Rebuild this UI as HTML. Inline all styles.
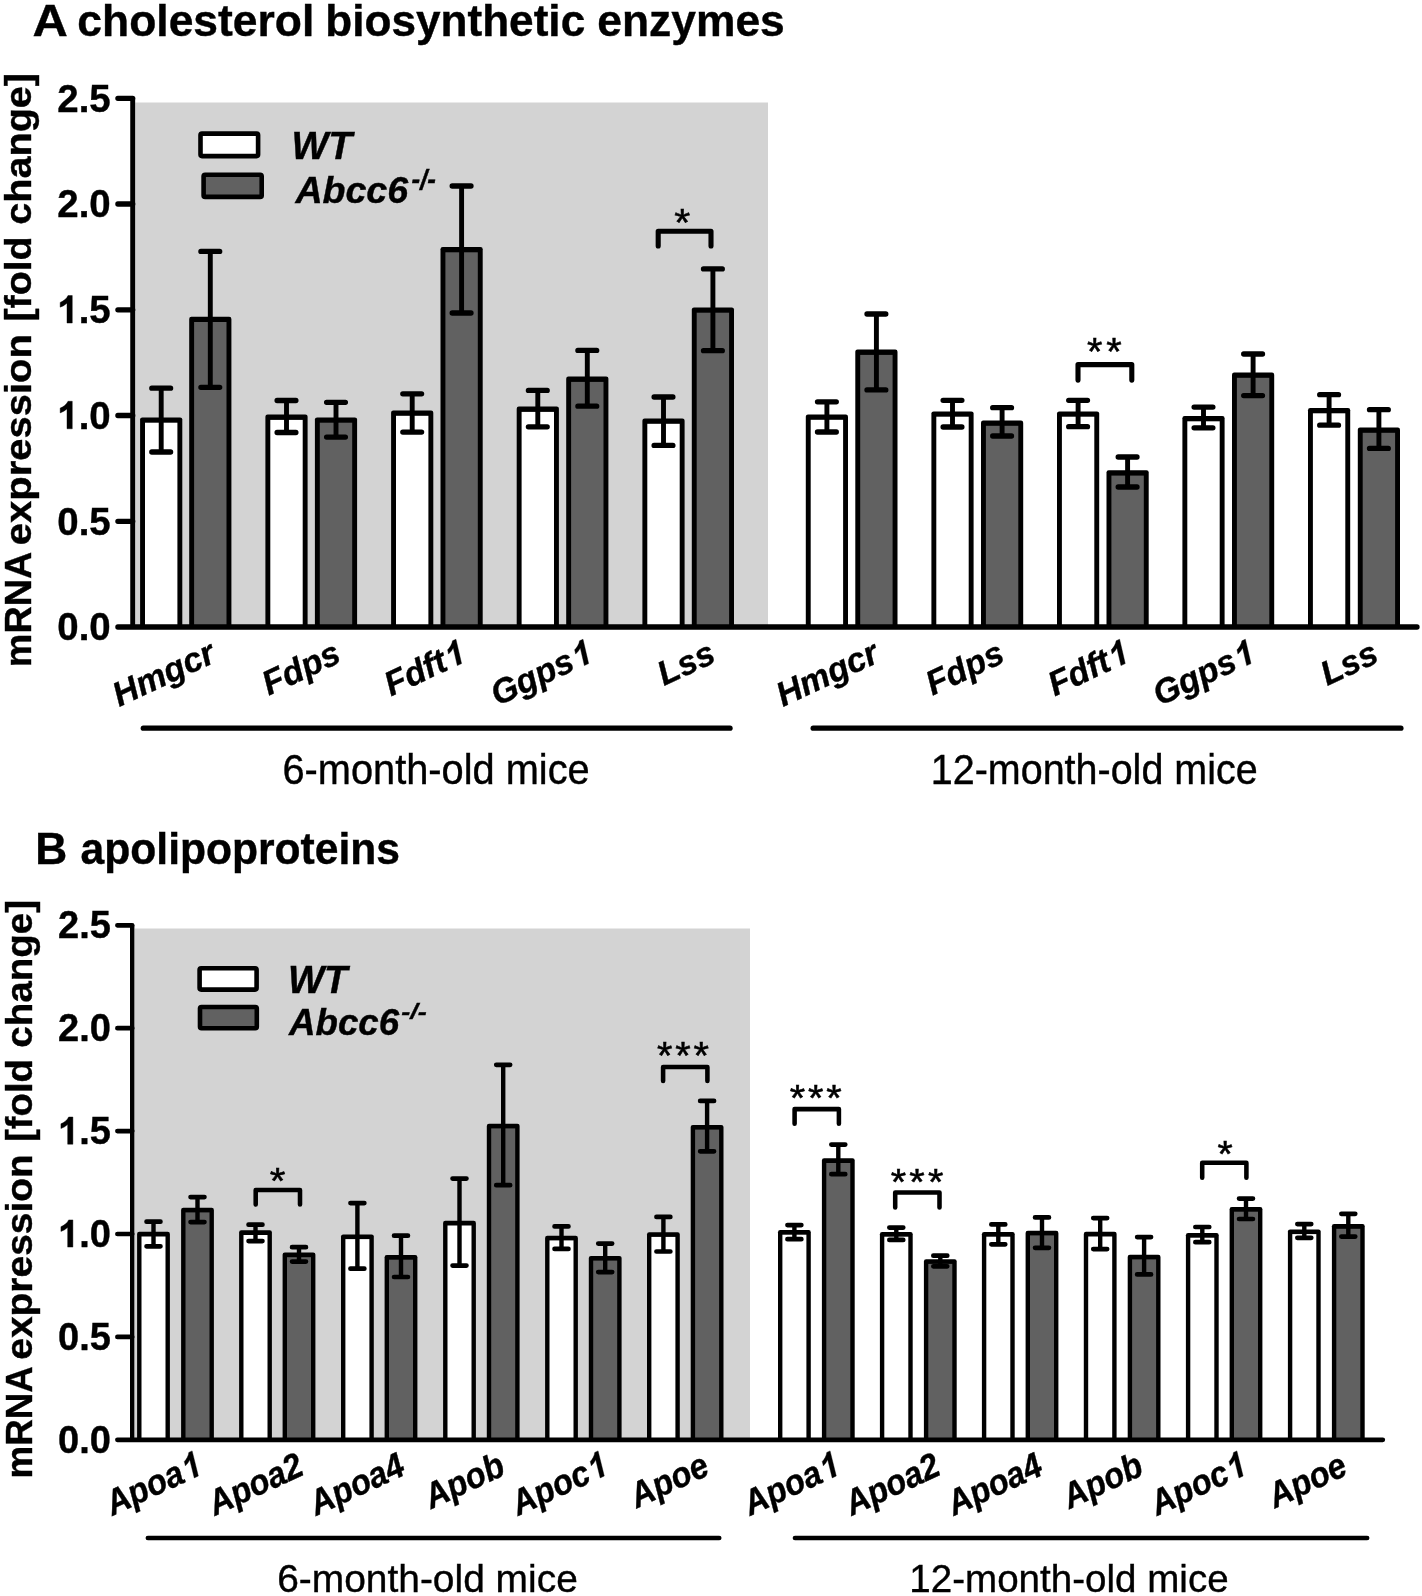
<!DOCTYPE html><html><head><meta charset="utf-8"><style>
html,body{margin:0;padding:0;background:#fff;}
svg{display:block;will-change:transform;}
text{font-family:"Liberation Sans",sans-serif;fill:#000;stroke:#000;stroke-width:0.4px;vector-effect:non-scaling-stroke;}
.one{stroke:#000;stroke-width:0.4px;vector-effect:non-scaling-stroke;}
.title,.tick,.ytitle{font-weight:bold;}
.leg,.cat{font-weight:bold;font-style:italic;}
.ast{stroke-width:0.55px;}
</style></head><body>
<svg width="1422" height="1596" viewBox="0 0 1422 1596">
<rect x="135.2" y="102.5" width="632.8" height="524.5" fill="#d3d3d3"/>
<text transform="translate(32.43 36.10) scale(0.48939 0.44300)" class="title" font-size="100">A</text>
<text transform="translate(77.32 36.10) scale(0.44425 0.44300)" class="title" font-size="100">cholesterol</text>
<text transform="translate(325.21 36.10) scale(0.44145 0.44300)" class="title" font-size="100">biosynthetic</text>
<text transform="translate(597.33 36.10) scale(0.44372 0.44300)" class="title" font-size="100">enzymes</text>
<rect x="140.10" y="417.40" width="42.20" height="209.60" rx="2.2"/>
<rect x="145.00" y="422.70" width="32.40" height="204.30" fill="#fff"/>
<rect x="189.20" y="316.70" width="42.20" height="310.30" rx="2.2"/>
<rect x="194.10" y="322.00" width="32.40" height="305.00" fill="#616161"/>
<rect x="265.40" y="414.60" width="42.20" height="212.40" rx="2.2"/>
<rect x="270.30" y="419.90" width="32.40" height="207.10" fill="#fff"/>
<rect x="314.90" y="417.40" width="42.20" height="209.60" rx="2.2"/>
<rect x="319.80" y="422.70" width="32.40" height="204.30" fill="#616161"/>
<rect x="391.10" y="410.50" width="42.20" height="216.50" rx="2.2"/>
<rect x="396.00" y="415.80" width="32.40" height="211.20" fill="#fff"/>
<rect x="440.50" y="247.00" width="42.20" height="380.00" rx="2.2"/>
<rect x="445.40" y="252.30" width="32.40" height="374.70" fill="#616161"/>
<rect x="516.70" y="406.60" width="42.20" height="220.40" rx="2.2"/>
<rect x="521.60" y="411.90" width="32.40" height="215.10" fill="#fff"/>
<rect x="566.20" y="376.60" width="42.20" height="250.40" rx="2.2"/>
<rect x="571.10" y="381.90" width="32.40" height="245.10" fill="#616161"/>
<rect x="642.40" y="418.50" width="42.20" height="208.50" rx="2.2"/>
<rect x="647.30" y="423.80" width="32.40" height="203.20" fill="#fff"/>
<rect x="691.80" y="307.40" width="42.20" height="319.60" rx="2.2"/>
<rect x="696.70" y="312.70" width="32.40" height="314.30" fill="#616161"/>
<rect x="805.80" y="414.50" width="42.20" height="212.50" rx="2.2"/>
<rect x="810.70" y="419.80" width="32.40" height="207.20" fill="#fff"/>
<rect x="855.30" y="349.60" width="42.20" height="277.40" rx="2.2"/>
<rect x="860.20" y="354.90" width="32.40" height="272.10" fill="#616161"/>
<rect x="931.40" y="411.40" width="42.20" height="215.60" rx="2.2"/>
<rect x="936.30" y="416.70" width="32.40" height="210.30" fill="#fff"/>
<rect x="981.00" y="420.50" width="42.20" height="206.50" rx="2.2"/>
<rect x="985.90" y="425.80" width="32.40" height="201.20" fill="#616161"/>
<rect x="1057.00" y="411.40" width="42.20" height="215.60" rx="2.2"/>
<rect x="1061.90" y="416.70" width="32.40" height="210.30" fill="#fff"/>
<rect x="1106.50" y="470.30" width="42.20" height="156.70" rx="2.2"/>
<rect x="1111.40" y="475.60" width="32.40" height="151.40" fill="#616161"/>
<rect x="1182.40" y="416.00" width="42.20" height="211.00" rx="2.2"/>
<rect x="1187.30" y="421.30" width="32.40" height="205.70" fill="#fff"/>
<rect x="1232.00" y="372.50" width="42.20" height="254.50" rx="2.2"/>
<rect x="1236.90" y="377.80" width="32.40" height="249.20" fill="#616161"/>
<rect x="1308.00" y="408.00" width="42.20" height="219.00" rx="2.2"/>
<rect x="1312.90" y="413.30" width="32.40" height="213.70" fill="#fff"/>
<rect x="1357.80" y="427.50" width="42.20" height="199.50" rx="2.2"/>
<rect x="1362.70" y="432.80" width="32.40" height="194.20" fill="#616161"/>
<rect x="158.75" y="388.20" width="4.90" height="63.80"/>
<path d="M151.80 388.20H170.60M151.80 452.00H170.60" stroke="#000" stroke-width="5.3" stroke-linecap="round" fill="none"/>
<rect x="207.85" y="251.40" width="4.90" height="135.90"/>
<path d="M200.90 251.40H219.70M200.90 387.30H219.70" stroke="#000" stroke-width="5.3" stroke-linecap="round" fill="none"/>
<rect x="284.05" y="400.50" width="4.90" height="32.00"/>
<path d="M277.10 400.50H295.90M277.10 432.50H295.90" stroke="#000" stroke-width="5.3" stroke-linecap="round" fill="none"/>
<rect x="333.55" y="402.30" width="4.90" height="34.80"/>
<path d="M326.60 402.30H345.40M326.60 437.10H345.40" stroke="#000" stroke-width="5.3" stroke-linecap="round" fill="none"/>
<rect x="409.75" y="393.80" width="4.90" height="38.30"/>
<path d="M402.80 393.80H421.60M402.80 432.10H421.60" stroke="#000" stroke-width="5.3" stroke-linecap="round" fill="none"/>
<rect x="459.15" y="186.00" width="4.90" height="127.00"/>
<path d="M452.20 186.00H471.00M452.20 313.00H471.00" stroke="#000" stroke-width="5.3" stroke-linecap="round" fill="none"/>
<rect x="535.35" y="390.40" width="4.90" height="36.40"/>
<path d="M528.40 390.40H547.20M528.40 426.80H547.20" stroke="#000" stroke-width="5.3" stroke-linecap="round" fill="none"/>
<rect x="584.85" y="350.40" width="4.90" height="55.80"/>
<path d="M577.90 350.40H596.70M577.90 406.20H596.70" stroke="#000" stroke-width="5.3" stroke-linecap="round" fill="none"/>
<rect x="661.05" y="397.00" width="4.90" height="48.40"/>
<path d="M654.10 397.00H672.90M654.10 445.40H672.90" stroke="#000" stroke-width="5.3" stroke-linecap="round" fill="none"/>
<rect x="710.45" y="268.90" width="4.90" height="81.80"/>
<path d="M703.50 268.90H722.30M703.50 350.70H722.30" stroke="#000" stroke-width="5.3" stroke-linecap="round" fill="none"/>
<rect x="824.45" y="401.80" width="4.90" height="30.20"/>
<path d="M817.50 401.80H836.30M817.50 432.00H836.30" stroke="#000" stroke-width="5.3" stroke-linecap="round" fill="none"/>
<rect x="873.95" y="314.00" width="4.90" height="75.90"/>
<path d="M867.00 314.00H885.80M867.00 389.90H885.80" stroke="#000" stroke-width="5.3" stroke-linecap="round" fill="none"/>
<rect x="950.05" y="400.30" width="4.90" height="26.70"/>
<path d="M943.10 400.30H961.90M943.10 427.00H961.90" stroke="#000" stroke-width="5.3" stroke-linecap="round" fill="none"/>
<rect x="999.65" y="407.70" width="4.90" height="28.30"/>
<path d="M992.70 407.70H1011.50M992.70 436.00H1011.50" stroke="#000" stroke-width="5.3" stroke-linecap="round" fill="none"/>
<rect x="1075.65" y="400.30" width="4.90" height="26.40"/>
<path d="M1068.70 400.30H1087.50M1068.70 426.70H1087.50" stroke="#000" stroke-width="5.3" stroke-linecap="round" fill="none"/>
<rect x="1125.15" y="457.00" width="4.90" height="30.00"/>
<path d="M1118.20 457.00H1137.00M1118.20 487.00H1137.00" stroke="#000" stroke-width="5.3" stroke-linecap="round" fill="none"/>
<rect x="1201.05" y="407.10" width="4.90" height="20.70"/>
<path d="M1194.10 407.10H1212.90M1194.10 427.80H1212.90" stroke="#000" stroke-width="5.3" stroke-linecap="round" fill="none"/>
<rect x="1250.65" y="354.00" width="4.90" height="41.60"/>
<path d="M1243.70 354.00H1262.50M1243.70 395.60H1262.50" stroke="#000" stroke-width="5.3" stroke-linecap="round" fill="none"/>
<rect x="1326.65" y="394.70" width="4.90" height="30.50"/>
<path d="M1319.70 394.70H1338.50M1319.70 425.20H1338.50" stroke="#000" stroke-width="5.3" stroke-linecap="round" fill="none"/>
<rect x="1376.45" y="409.70" width="4.90" height="38.70"/>
<path d="M1369.50 409.70H1388.30M1369.50 448.40H1388.30" stroke="#000" stroke-width="5.3" stroke-linecap="round" fill="none"/>
<path d="M132.7 98.3V627.0" stroke="#000" stroke-width="4.9" fill="none"/>
<path d="M130.25 627.0H1417.0M117.9 627.0H132.7M117.9 521.3H132.7M117.9 415.5H132.7M117.9 309.8H132.7M117.9 204.0H132.7M117.9 98.3H132.7" stroke="#000" stroke-width="5.3" stroke-linecap="round" fill="none"/>
<text transform="translate(110.75 640.27) scale(0.38451)" class="tick" font-size="100" text-anchor="end">0.0</text>
<text transform="translate(110.75 534.53) scale(0.38451)" class="tick" font-size="100" text-anchor="end">0.5</text>
<g transform="translate(110.75 428.79) scale(0.38451)"><text class="tick" font-size="100" text-anchor="end">.0</text><path transform="translate(-139 0) scale(0.048828 -0.048828)" class="one" d="M797 0H516V1059Q363 916 153 846V1101Q264 1137 392 1239Q520 1341 569 1466H797Z"/></g>
<g transform="translate(110.75 323.05) scale(0.38451)"><text class="tick" font-size="100" text-anchor="end">.5</text><path transform="translate(-139 0) scale(0.048828 -0.048828)" class="one" d="M797 0H516V1059Q363 916 153 846V1101Q264 1137 392 1239Q520 1341 569 1466H797Z"/></g>
<text transform="translate(110.75 217.31) scale(0.38451)" class="tick" font-size="100" text-anchor="end">2.0</text>
<text transform="translate(110.75 111.57) scale(0.38451)" class="tick" font-size="100" text-anchor="end">2.5</text>
<text transform="translate(30.50 667.14) rotate(-90) scale(0.37763 0.37800)" class="ytitle" font-size="100">mRNA</text>
<text transform="translate(30.50 545.20) rotate(-90) scale(0.40000 0.37800)" class="ytitle" font-size="100">expression</text>
<text transform="translate(30.50 321.56) rotate(-90) scale(0.39363 0.37800)" class="ytitle" font-size="100">[fold</text>
<text transform="translate(30.50 224.68) rotate(-90) scale(0.39599 0.37800)" class="ytitle" font-size="100">change]</text>
<rect x="200.5" y="133.6" width="57.6" height="22.5" fill="#fff" stroke="#000" stroke-width="4.6" rx="1.5"/>
<rect x="203.6" y="174.8" width="58.1" height="22.1" fill="#616161" stroke="#000" stroke-width="4.6" rx="1.5"/>
<text transform="translate(291.47 158.80) scale(0.38968 0.38261)" class="leg" font-size="100">WT</text>
<text transform="translate(295.48 202.83) scale(0.37550 0.37027)" class="leg" font-size="100">Abcc6</text>
<text transform="translate(411.42 189.23) scale(0.25909 0.27162)" class="leg" font-size="100">-/-</text>
<g transform="translate(217.50 661.20) rotate(-25) scale(1.0 1)" class="cat" font-size="34.2"><text text-anchor="end">Hmgcr</text></g>
<g transform="translate(342.80 661.20) rotate(-25) scale(1.0 1)" class="cat" font-size="34.2"><text text-anchor="end">Fdps</text></g>
<g transform="translate(466.75 661.20) rotate(-25) scale(1.0 1)" class="cat" font-size="34.2"><text x="-19.02" text-anchor="end">Fdft</text><path transform="translate(-19.02 0) skewX(-12) scale(0.01670 -0.01670)" class="one" d="M797 0H516V1059Q363 916 153 846V1101Q264 1137 392 1239Q520 1341 569 1466H797Z"/></g>
<g transform="translate(593.80 661.20) rotate(-25) scale(1.0 1)" class="cat" font-size="34.2"><text x="-19.02" text-anchor="end">Ggps</text><path transform="translate(-19.02 0) skewX(-12) scale(0.01670 -0.01670)" class="one" d="M797 0H516V1059Q363 916 153 846V1101Q264 1137 392 1239Q520 1341 569 1466H797Z"/></g>
<g transform="translate(717.45 661.20) rotate(-25) scale(1.0 1)" class="cat" font-size="34.2"><text text-anchor="end">Lss</text></g>
<g transform="translate(881.10 661.20) rotate(-25) scale(1.0 1)" class="cat" font-size="34.2"><text text-anchor="end">Hmgcr</text></g>
<g transform="translate(1006.45 661.20) rotate(-25) scale(1.0 1)" class="cat" font-size="34.2"><text text-anchor="end">Fdps</text></g>
<g transform="translate(1130.40 661.20) rotate(-25) scale(1.0 1)" class="cat" font-size="34.2"><text x="-19.02" text-anchor="end">Fdft</text><path transform="translate(-19.02 0) skewX(-12) scale(0.01670 -0.01670)" class="one" d="M797 0H516V1059Q363 916 153 846V1101Q264 1137 392 1239Q520 1341 569 1466H797Z"/></g>
<g transform="translate(1256.15 661.20) rotate(-25) scale(1.0 1)" class="cat" font-size="34.2"><text x="-19.02" text-anchor="end">Ggps</text><path transform="translate(-19.02 0) skewX(-12) scale(0.01670 -0.01670)" class="one" d="M797 0H516V1059Q363 916 153 846V1101Q264 1137 392 1239Q520 1341 569 1466H797Z"/></g>
<g transform="translate(1380.55 661.20) rotate(-25) scale(1.0 1)" class="cat" font-size="34.2"><text text-anchor="end">Lss</text></g>
<path d="M143.3 728.2H730.0" stroke="#000" stroke-width="5.3" stroke-linecap="round"/>
<path d="M813.2 728.2H1400.9" stroke="#000" stroke-width="5.3" stroke-linecap="round"/>
<text transform="translate(282.41 783.89) scale(0.39790 0.42519)" class="grp" font-size="100">6-month-old mice</text>
<text transform="translate(930.74 783.59) scale(0.39498 0.42099)" class="grp" font-size="100">12-month-old mice</text>
<path d="M658.2 246.0V231.3H711.0V246.0" stroke="#000" stroke-width="5.1" stroke-linecap="round" stroke-linejoin="round" fill="none"/>
<text transform="translate(674.28 236.21) scale(0.41143 0.39143)" class="ast" font-size="100">*</text>
<path d="M1078.0 380.1V364.6H1131.8V380.1" stroke="#000" stroke-width="5.1" stroke-linecap="round" stroke-linejoin="round" fill="none"/>
<text transform="translate(1087.01 364.91) scale(0.39714 0.38857)" class="ast" font-size="100">*</text>
<text transform="translate(1106.31 364.91) scale(0.39714 0.38857)" class="ast" font-size="100">*</text>
<rect x="134.7" y="928.5" width="615.3" height="511.3" fill="#d3d3d3"/>
<text transform="translate(35.30 864.20) scale(0.44262 0.44300)" class="title" font-size="100">B</text>
<text transform="translate(80.62 864.20) scale(0.42584 0.44300)" class="title" font-size="100">apolipoproteins</text>
<rect x="137.10" y="1231.80" width="32.80" height="208.00" rx="2.2"/>
<rect x="141.50" y="1236.50" width="24.00" height="203.30" fill="#fff"/>
<rect x="181.10" y="1207.70" width="32.80" height="232.10" rx="2.2"/>
<rect x="185.50" y="1212.40" width="24.00" height="227.40" fill="#616161"/>
<rect x="239.10" y="1230.30" width="32.80" height="209.50" rx="2.2"/>
<rect x="243.50" y="1235.00" width="24.00" height="204.80" fill="#fff"/>
<rect x="282.60" y="1252.50" width="32.80" height="187.30" rx="2.2"/>
<rect x="287.00" y="1257.20" width="24.00" height="182.60" fill="#616161"/>
<rect x="341.00" y="1234.40" width="32.80" height="205.40" rx="2.2"/>
<rect x="345.40" y="1239.10" width="24.00" height="200.70" fill="#fff"/>
<rect x="384.60" y="1255.00" width="32.80" height="184.80" rx="2.2"/>
<rect x="389.00" y="1259.70" width="24.00" height="180.10" fill="#616161"/>
<rect x="443.10" y="1220.80" width="32.80" height="219.00" rx="2.2"/>
<rect x="447.50" y="1225.50" width="24.00" height="214.30" fill="#fff"/>
<rect x="486.80" y="1123.70" width="32.80" height="316.10" rx="2.2"/>
<rect x="491.20" y="1128.40" width="24.00" height="311.40" fill="#616161"/>
<rect x="545.10" y="1235.70" width="32.80" height="204.10" rx="2.2"/>
<rect x="549.50" y="1240.40" width="24.00" height="199.40" fill="#fff"/>
<rect x="588.80" y="1255.90" width="32.80" height="183.90" rx="2.2"/>
<rect x="593.20" y="1260.60" width="24.00" height="179.20" fill="#616161"/>
<rect x="647.00" y="1232.20" width="32.80" height="207.60" rx="2.2"/>
<rect x="651.40" y="1236.90" width="24.00" height="202.90" fill="#fff"/>
<rect x="690.70" y="1124.90" width="32.80" height="314.90" rx="2.2"/>
<rect x="695.10" y="1129.60" width="24.00" height="310.20" fill="#616161"/>
<rect x="778.00" y="1230.00" width="32.80" height="209.80" rx="2.2"/>
<rect x="782.40" y="1234.70" width="24.00" height="205.10" fill="#fff"/>
<rect x="821.90" y="1158.30" width="32.80" height="281.50" rx="2.2"/>
<rect x="826.30" y="1163.00" width="24.00" height="276.80" fill="#616161"/>
<rect x="879.90" y="1232.00" width="32.80" height="207.80" rx="2.2"/>
<rect x="884.30" y="1236.70" width="24.00" height="203.10" fill="#fff"/>
<rect x="923.90" y="1259.20" width="32.80" height="180.60" rx="2.2"/>
<rect x="928.30" y="1263.90" width="24.00" height="175.90" fill="#616161"/>
<rect x="981.90" y="1232.00" width="32.80" height="207.80" rx="2.2"/>
<rect x="986.30" y="1236.70" width="24.00" height="203.10" fill="#fff"/>
<rect x="1025.60" y="1230.70" width="32.80" height="209.10" rx="2.2"/>
<rect x="1030.00" y="1235.40" width="24.00" height="204.40" fill="#616161"/>
<rect x="1083.80" y="1231.80" width="32.80" height="208.00" rx="2.2"/>
<rect x="1088.20" y="1236.50" width="24.00" height="203.30" fill="#fff"/>
<rect x="1127.70" y="1254.70" width="32.80" height="185.10" rx="2.2"/>
<rect x="1132.10" y="1259.40" width="24.00" height="180.40" fill="#616161"/>
<rect x="1185.90" y="1233.00" width="32.80" height="206.80" rx="2.2"/>
<rect x="1190.30" y="1237.70" width="24.00" height="202.10" fill="#fff"/>
<rect x="1229.60" y="1207.00" width="32.80" height="232.80" rx="2.2"/>
<rect x="1234.00" y="1211.70" width="24.00" height="228.10" fill="#616161"/>
<rect x="1287.90" y="1229.40" width="32.80" height="210.40" rx="2.2"/>
<rect x="1292.30" y="1234.10" width="24.00" height="205.70" fill="#fff"/>
<rect x="1331.90" y="1224.10" width="32.80" height="215.70" rx="2.2"/>
<rect x="1336.30" y="1228.80" width="24.00" height="211.00" fill="#616161"/>
<rect x="151.30" y="1221.70" width="4.40" height="24.60"/>
<path d="M146.55 1221.70H160.45M146.55 1246.30H160.45" stroke="#000" stroke-width="4.7" stroke-linecap="round" fill="none"/>
<rect x="195.30" y="1197.10" width="4.40" height="25.00"/>
<path d="M190.55 1197.10H204.45M190.55 1222.10H204.45" stroke="#000" stroke-width="4.7" stroke-linecap="round" fill="none"/>
<rect x="253.30" y="1224.70" width="4.40" height="16.40"/>
<path d="M248.55 1224.70H262.45M248.55 1241.10H262.45" stroke="#000" stroke-width="4.7" stroke-linecap="round" fill="none"/>
<rect x="296.80" y="1247.20" width="4.40" height="14.40"/>
<path d="M292.05 1247.20H305.95M292.05 1261.60H305.95" stroke="#000" stroke-width="4.7" stroke-linecap="round" fill="none"/>
<rect x="355.20" y="1203.10" width="4.40" height="65.60"/>
<path d="M350.45 1203.10H364.35M350.45 1268.70H364.35" stroke="#000" stroke-width="4.7" stroke-linecap="round" fill="none"/>
<rect x="398.80" y="1235.70" width="4.40" height="41.30"/>
<path d="M394.05 1235.70H407.95M394.05 1277.00H407.95" stroke="#000" stroke-width="4.7" stroke-linecap="round" fill="none"/>
<rect x="457.30" y="1178.60" width="4.40" height="87.00"/>
<path d="M452.55 1178.60H466.45M452.55 1265.60H466.45" stroke="#000" stroke-width="4.7" stroke-linecap="round" fill="none"/>
<rect x="501.00" y="1064.80" width="4.40" height="120.40"/>
<path d="M496.25 1064.80H510.15M496.25 1185.20H510.15" stroke="#000" stroke-width="4.7" stroke-linecap="round" fill="none"/>
<rect x="559.30" y="1226.40" width="4.40" height="22.50"/>
<path d="M554.55 1226.40H568.45M554.55 1248.90H568.45" stroke="#000" stroke-width="4.7" stroke-linecap="round" fill="none"/>
<rect x="603.00" y="1243.60" width="4.40" height="28.50"/>
<path d="M598.25 1243.60H612.15M598.25 1272.10H612.15" stroke="#000" stroke-width="4.7" stroke-linecap="round" fill="none"/>
<rect x="661.20" y="1216.90" width="4.40" height="34.60"/>
<path d="M656.45 1216.90H670.35M656.45 1251.50H670.35" stroke="#000" stroke-width="4.7" stroke-linecap="round" fill="none"/>
<rect x="704.90" y="1100.90" width="4.40" height="50.40"/>
<path d="M700.15 1100.90H714.05M700.15 1151.30H714.05" stroke="#000" stroke-width="4.7" stroke-linecap="round" fill="none"/>
<rect x="792.20" y="1225.10" width="4.40" height="14.10"/>
<path d="M787.45 1225.10H801.35M787.45 1239.20H801.35" stroke="#000" stroke-width="4.7" stroke-linecap="round" fill="none"/>
<rect x="836.10" y="1144.60" width="4.40" height="29.60"/>
<path d="M831.35 1144.60H845.25M831.35 1174.20H845.25" stroke="#000" stroke-width="4.7" stroke-linecap="round" fill="none"/>
<rect x="894.10" y="1227.60" width="4.40" height="12.30"/>
<path d="M889.35 1227.60H903.25M889.35 1239.90H903.25" stroke="#000" stroke-width="4.7" stroke-linecap="round" fill="none"/>
<rect x="938.10" y="1255.70" width="4.40" height="10.60"/>
<path d="M933.35 1255.70H947.25M933.35 1266.30H947.25" stroke="#000" stroke-width="4.7" stroke-linecap="round" fill="none"/>
<rect x="996.10" y="1224.40" width="4.40" height="19.90"/>
<path d="M991.35 1224.40H1005.25M991.35 1244.30H1005.25" stroke="#000" stroke-width="4.7" stroke-linecap="round" fill="none"/>
<rect x="1039.80" y="1217.40" width="4.40" height="30.40"/>
<path d="M1035.05 1217.40H1048.95M1035.05 1247.80H1048.95" stroke="#000" stroke-width="4.7" stroke-linecap="round" fill="none"/>
<rect x="1098.00" y="1218.10" width="4.40" height="31.00"/>
<path d="M1093.25 1218.10H1107.15M1093.25 1249.10H1107.15" stroke="#000" stroke-width="4.7" stroke-linecap="round" fill="none"/>
<rect x="1141.90" y="1237.10" width="4.40" height="37.30"/>
<path d="M1137.15 1237.10H1151.05M1137.15 1274.40H1151.05" stroke="#000" stroke-width="4.7" stroke-linecap="round" fill="none"/>
<rect x="1200.10" y="1227.00" width="4.40" height="15.20"/>
<path d="M1195.35 1227.00H1209.25M1195.35 1242.20H1209.25" stroke="#000" stroke-width="4.7" stroke-linecap="round" fill="none"/>
<rect x="1243.80" y="1198.60" width="4.40" height="20.40"/>
<path d="M1239.05 1198.60H1252.95M1239.05 1219.00H1252.95" stroke="#000" stroke-width="4.7" stroke-linecap="round" fill="none"/>
<rect x="1302.10" y="1224.10" width="4.40" height="13.70"/>
<path d="M1297.35 1224.10H1311.25M1297.35 1237.80H1311.25" stroke="#000" stroke-width="4.7" stroke-linecap="round" fill="none"/>
<rect x="1346.10" y="1213.80" width="4.40" height="22.80"/>
<path d="M1341.35 1213.80H1355.25M1341.35 1236.60H1355.25" stroke="#000" stroke-width="4.7" stroke-linecap="round" fill="none"/>
<path d="M132.2 925.3V1439.8" stroke="#000" stroke-width="4.4" fill="none"/>
<path d="M130.00 1439.8H1382.8M117.4 1439.8H132.2M117.4 1336.9H132.2M117.4 1234.0H132.2M117.4 1131.1H132.2M117.4 1028.2H132.2M117.4 925.3H132.2" stroke="#000" stroke-width="4.7" stroke-linecap="round" fill="none"/>
<text transform="translate(110.94 1452.92) scale(0.38028)" class="tick" font-size="100" text-anchor="end">0.0</text>
<text transform="translate(110.94 1350.02) scale(0.38028)" class="tick" font-size="100" text-anchor="end">0.5</text>
<g transform="translate(110.94 1247.12) scale(0.38028)"><text class="tick" font-size="100" text-anchor="end">.0</text><path transform="translate(-139 0) scale(0.048828 -0.048828)" class="one" d="M797 0H516V1059Q363 916 153 846V1101Q264 1137 392 1239Q520 1341 569 1466H797Z"/></g>
<g transform="translate(110.94 1144.22) scale(0.38028)"><text class="tick" font-size="100" text-anchor="end">.5</text><path transform="translate(-139 0) scale(0.048828 -0.048828)" class="one" d="M797 0H516V1059Q363 916 153 846V1101Q264 1137 392 1239Q520 1341 569 1466H797Z"/></g>
<text transform="translate(110.94 1041.32) scale(0.38028)" class="tick" font-size="100" text-anchor="end">2.0</text>
<text transform="translate(110.94 938.42) scale(0.38028)" class="tick" font-size="100" text-anchor="end">2.5</text>
<text transform="translate(32.40 1478.47) rotate(-90) scale(0.36770 0.37800)" class="ytitle" font-size="100">mRNA</text>
<text transform="translate(32.40 1359.74) rotate(-90) scale(0.38948 0.37800)" class="ytitle" font-size="100">expression</text>
<text transform="translate(32.40 1141.98) rotate(-90) scale(0.38328 0.37800)" class="ytitle" font-size="100">[fold</text>
<text transform="translate(32.40 1047.65) rotate(-90) scale(0.38557 0.37800)" class="ytitle" font-size="100">change]</text>
<rect x="199.6" y="968.3" width="57.0" height="21.3" fill="#fff" stroke="#000" stroke-width="4.6" rx="1.5"/>
<rect x="200.0" y="1007.0" width="56.8" height="21.2" fill="#616161" stroke="#000" stroke-width="4.6" rx="1.5"/>
<text transform="translate(287.92 992.50) scale(0.38323 0.39710)" class="leg" font-size="100">WT</text>
<text transform="translate(289.07 1034.54) scale(0.36656 0.36351)" class="leg" font-size="100">Abcc6</text>
<text transform="translate(401.29 1019.17) scale(0.27045 0.22838)" class="leg" font-size="100">-/-</text>
<g transform="translate(203.30 1473.70) rotate(-25) scale(0.925 1)" class="cat" font-size="35.5"><text x="-19.74" text-anchor="end">Apoa</text><path transform="translate(-19.74 0) skewX(-12) scale(0.01733 -0.01733)" class="one" d="M797 0H516V1059Q363 916 153 846V1101Q264 1137 392 1239Q520 1341 569 1466H797Z"/></g>
<g transform="translate(305.85 1473.70) rotate(-25) scale(0.925 1)" class="cat" font-size="35.5"><text text-anchor="end">Apoa2</text></g>
<g transform="translate(407.20 1473.70) rotate(-25) scale(0.925 1)" class="cat" font-size="35.5"><text text-anchor="end">Apoa4</text></g>
<g transform="translate(507.15 1473.70) rotate(-25) scale(0.925 1)" class="cat" font-size="35.5"><text text-anchor="end">Apob</text></g>
<g transform="translate(609.25 1473.70) rotate(-25) scale(0.925 1)" class="cat" font-size="35.5"><text x="-19.74" text-anchor="end">Apoc</text><path transform="translate(-19.74 0) skewX(-12) scale(0.01733 -0.01733)" class="one" d="M797 0H516V1059Q363 916 153 846V1101Q264 1137 392 1239Q520 1341 569 1466H797Z"/></g>
<g transform="translate(711.25 1473.70) rotate(-25) scale(0.925 1)" class="cat" font-size="35.5"><text text-anchor="end">Apoe</text></g>
<g transform="translate(841.25 1473.70) rotate(-25) scale(0.925 1)" class="cat" font-size="35.5"><text x="-19.74" text-anchor="end">Apoa</text><path transform="translate(-19.74 0) skewX(-12) scale(0.01733 -0.01733)" class="one" d="M797 0H516V1059Q363 916 153 846V1101Q264 1137 392 1239Q520 1341 569 1466H797Z"/></g>
<g transform="translate(942.60 1473.70) rotate(-25) scale(0.925 1)" class="cat" font-size="35.5"><text text-anchor="end">Apoa2</text></g>
<g transform="translate(1044.95 1473.70) rotate(-25) scale(0.925 1)" class="cat" font-size="35.5"><text text-anchor="end">Apoa4</text></g>
<g transform="translate(1145.55 1473.70) rotate(-25) scale(0.925 1)" class="cat" font-size="35.5"><text text-anchor="end">Apob</text></g>
<g transform="translate(1248.05 1473.70) rotate(-25) scale(0.925 1)" class="cat" font-size="35.5"><text x="-19.74" text-anchor="end">Apoc</text><path transform="translate(-19.74 0) skewX(-12) scale(0.01733 -0.01733)" class="one" d="M797 0H516V1059Q363 916 153 846V1101Q264 1137 392 1239Q520 1341 569 1466H797Z"/></g>
<g transform="translate(1349.40 1473.70) rotate(-25) scale(0.925 1)" class="cat" font-size="35.5"><text text-anchor="end">Apoe</text></g>
<path d="M147.9 1538.0H719.2" stroke="#000" stroke-width="4.7" stroke-linecap="round"/>
<path d="M795.0 1538.0H1367.1" stroke="#000" stroke-width="4.7" stroke-linecap="round"/>
<text transform="translate(277.15 1591.62) scale(0.38925 0.39530)" class="grp" font-size="100">6-month-old mice</text>
<text transform="translate(909.31 1591.62) scale(0.38566 0.39530)" class="grp" font-size="100">12-month-old mice</text>
<path d="M255.7 1204.5V1190.0H300.0V1204.5" stroke="#000" stroke-width="4.550000000000001" stroke-linecap="round" stroke-linejoin="round" fill="none"/>
<text transform="translate(269.79 1194.33) scale(0.40286 0.37429)" class="ast" font-size="100">*</text>
<path d="M663.1 1081.0V1066.9H707.4V1081.0" stroke="#000" stroke-width="4.550000000000001" stroke-linecap="round" stroke-linejoin="round" fill="none"/>
<text transform="translate(657.01 1069.01) scale(0.39714 0.39143)" class="ast" font-size="100">*</text>
<text transform="translate(675.26 1069.01) scale(0.39714 0.39143)" class="ast" font-size="100">*</text>
<text transform="translate(693.51 1069.01) scale(0.39714 0.39143)" class="ast" font-size="100">*</text>
<path d="M794.6 1123.7V1109.1H838.9V1123.7" stroke="#000" stroke-width="4.550000000000001" stroke-linecap="round" stroke-linejoin="round" fill="none"/>
<text transform="translate(789.71 1110.94) scale(0.39714 0.36286)" class="ast" font-size="100">*</text>
<text transform="translate(808.01 1110.94) scale(0.39714 0.36286)" class="ast" font-size="100">*</text>
<text transform="translate(826.31 1110.94) scale(0.39714 0.36286)" class="ast" font-size="100">*</text>
<path d="M895.2 1207.4V1192.4H939.5V1207.4" stroke="#000" stroke-width="4.550000000000001" stroke-linecap="round" stroke-linejoin="round" fill="none"/>
<text transform="translate(890.81 1195.43) scale(0.39714 0.37429)" class="ast" font-size="100">*</text>
<text transform="translate(909.36 1195.43) scale(0.39714 0.37429)" class="ast" font-size="100">*</text>
<text transform="translate(927.91 1195.43) scale(0.39714 0.37429)" class="ast" font-size="100">*</text>
<path d="M1202.2 1177.7V1162.8H1246.4V1177.7" stroke="#000" stroke-width="4.550000000000001" stroke-linecap="round" stroke-linejoin="round" fill="none"/>
<text transform="translate(1217.52 1167.33) scale(0.39143 0.36571)" class="ast" font-size="100">*</text>
</svg></body></html>
